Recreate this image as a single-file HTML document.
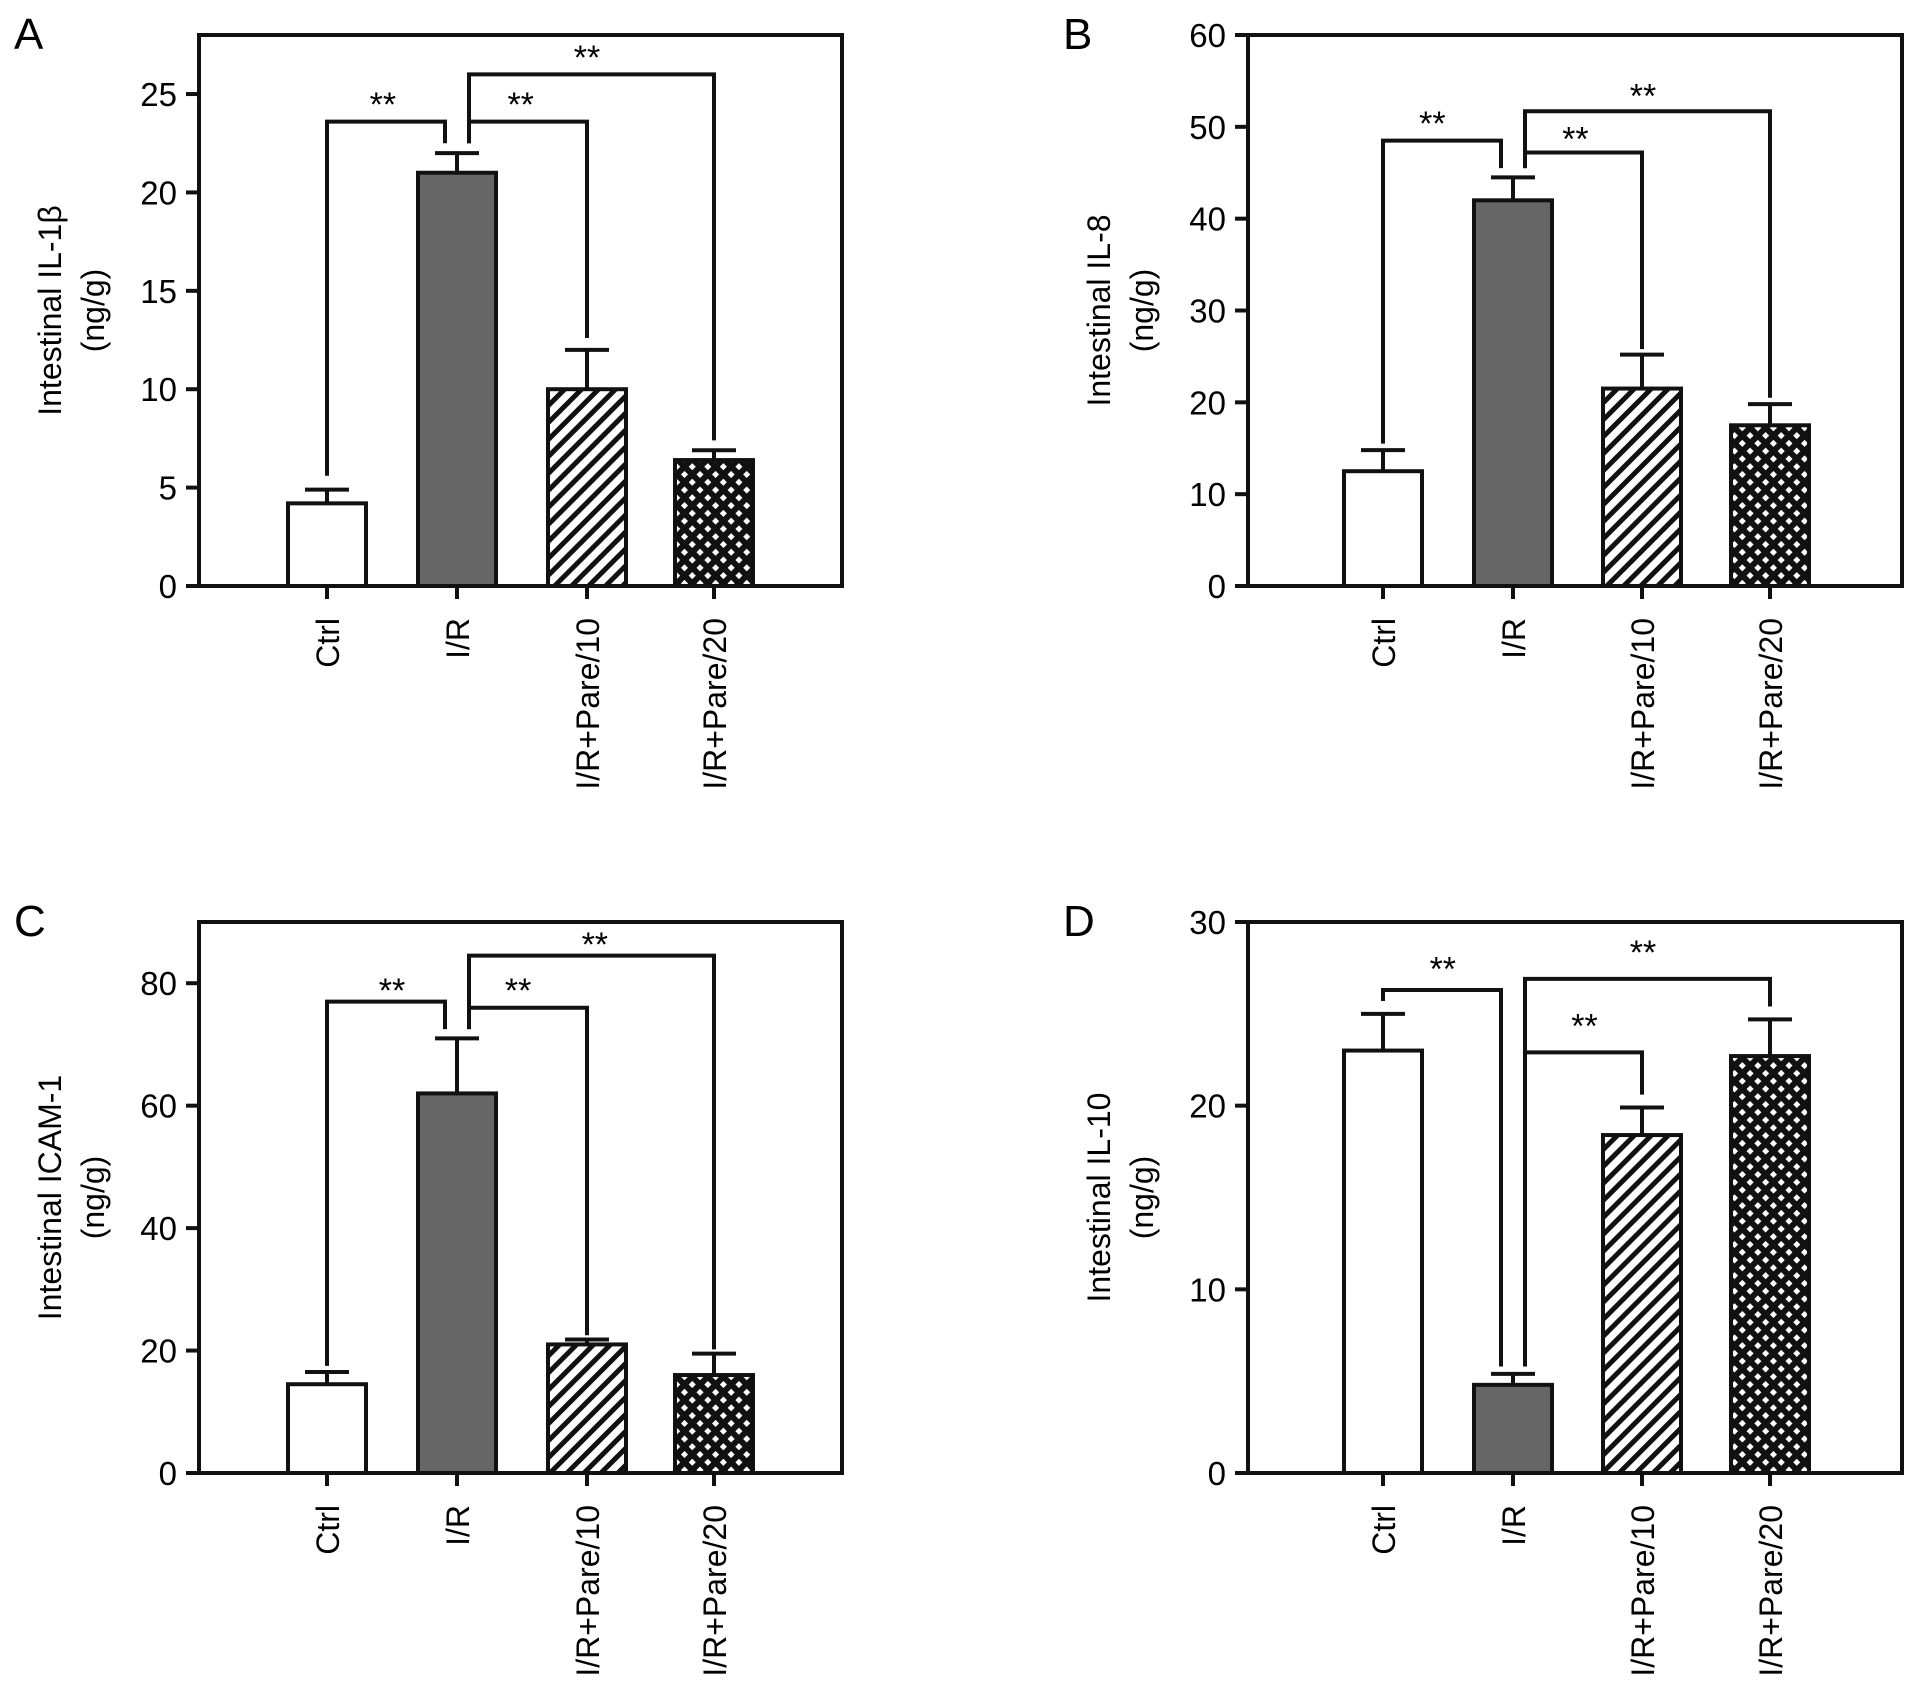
<!DOCTYPE html>
<html><head><meta charset="utf-8"><style>
html,body{margin:0;padding:0;background:#fff;}
svg{display:block;font-family:"Liberation Sans",Arial,sans-serif;}
</style></head><body>
<svg id="fig" width="1913" height="1702" viewBox="0 0 1913 1702" xmlns="http://www.w3.org/2000/svg">
<defs>
<pattern id="hatch" patternUnits="userSpaceOnUse" width="12" height="12" patternTransform="rotate(45)">
<rect width="12" height="12" fill="#fff"/><rect x="0" y="0" width="5" height="12" fill="#111"/></pattern>
<pattern id="cross" patternUnits="userSpaceOnUse" width="11" height="11" patternTransform="rotate(45)">
<rect width="11" height="11" fill="#111"/><rect x="3" y="3" width="5" height="5" fill="#fff"/></pattern>
</defs>
</svg>
<script>
const categories=["Ctrl","I/R","I/R+Pare/10","I/R+Pare/20"];
const valuesA=[4.2,21.0,10.0,6.4];
const errorsA=[4.9,22.0,12.0,6.9];
const valuesB=[12.5,42,21.5,17.5];
const errorsB=[14.8,44.5,25.2,19.8];
const valuesC=[14.5,62,21,16];
const errorsC=[16.5,71,21.8,19.5];
const valuesD=[23,4.8,18.4,22.7];
const errorsD=[25,5.4,19.9,24.7];
const ticksA=[0,5,10,15,20,25];
const ticksB=[0,10,20,30,40,50,60];
const ticksC=[0,20,40,60,80];
const ticksD=[0,10,20,30];
const maxA=28,maxB=60,maxC=90,maxD=30;
// brackets: [fromIdx,toIdx,level,leftDrop,rightDrop,starsLevel,starsCategoryPos]
const bracketsA=[[0,1,23.6,5.6,22.5,25.0,0.43],[1,2,23.6,22.5,12.6,25.0,1.49],[1,3,26,22.5,7.4,27.4,2.0]];
const bracketsB=[[0,1,48.5,15.5,45.5,51.5,0.38],[1,2,47.2,45.5,25.8,49.8,1.48],[1,3,51.7,45.5,20.5,54.5,2.0]];
const bracketsC=[[0,1,77,17.5,72.5,80.5,0.5],[1,2,76,72.5,22.5,80.5,1.47],[1,3,84.5,72.5,20.2,88,2.06]];
const bracketsD=[[0,1,26.3,25.7,5.8,28.0,0.46],[1,2,22.9,5.8,20.6,24.9,1.55],[1,3,26.9,5.8,25.4,28.9,2.0]];
const NS="http://www.w3.org/2000/svg";
const svg=document.getElementById("fig");
function mk(tag,attrs,parent,txt){const e=document.createElementNS(NS,tag);for(const k in attrs)e.setAttribute(k,attrs[k]);if(txt!==undefined)e.textContent=txt;(parent||svg).appendChild(e);return e;}
const fills=["#fff","#666","url(#hatch)","url(#cross)"];
function panel(id,letter,L,R,T,B,centers,vals,errs,ticks,ymax,brs,title){
  const g=mk("g",{});
  
  
  const y=v=>B-(v/ymax)*(B-T);
  const xc=p=>centers[0]+p*(centers[1]-centers[0]);
  const lt=mk("text",{x:L-185,y:T+14,"font-size":44},g,letter);
  
  
  const bw=78;
  vals.forEach((v,i)=>{
    const cx=centers[i];
    mk("line",{x1:cx,x2:cx,y1:y(v),y2:y(errs[i]),stroke:"#111","stroke-width":4},g);
    mk("line",{x1:cx-22,x2:cx+22,y1:y(errs[i]),y2:y(errs[i]),stroke:"#111","stroke-width":4},g);
    const r=mk("rect",{x:cx-bw/2,y:y(v),width:bw,height:B-y(v),fill:fills[i],stroke:"#111","stroke-width":4},g);
    
    
    mk("line",{x1:cx,x2:cx,y1:B,y2:B+13,stroke:"#111","stroke-width":4},g);
    const t=mk("text",{transform:`translate(${cx+12},${B+32}) rotate(-90)`,"font-size":32,"text-anchor":"end"},g,categories[i]);
    
    
  });
  mk("rect",{x:L,y:T,width:R-L,height:B-T,fill:"none",stroke:"#111","stroke-width":4},g);
  ticks.forEach(tv=>{
    mk("line",{x1:L-13,x2:L,y1:y(tv),y2:y(tv),stroke:"#111","stroke-width":4},g);
    const t=mk("text",{x:L-22,y:y(tv)+12,"font-size":33,"text-anchor":"end"},g,String(tv));
    
    
  });
  const yt=mk("text",{transform:`translate(${L-138},${(T+B)/2}) rotate(-90)`,"font-size":32,"text-anchor":"middle"},g);
  
  
  mk("tspan",{x:0,dy:0},yt,title);
  mk("tspan",{x:0,dy:43},yt,"(ng/g)");
  brs.forEach((b,k)=>{
    const x1=centers[b[0]]+(b[0]===1?12:0), x2=centers[b[1]]+(b[1]===1?-12:0);
    const p=mk("path",{d:`M${x1},${y(b[3])}V${y(b[2])}H${x2}V${y(b[4])}`,fill:"none",stroke:"#111","stroke-width":4},g);
    
    
    const s=mk("text",{x:xc(b[6]),y:y(b[5])+22,"font-size":34,"text-anchor":"middle"},g,"**");
    
    
  });
}
const cL=[327,457,587,714], cR=[1383,1513,1642,1770];
panel('a','A',199,842,35,586,cL,valuesA,errorsA,ticksA,maxA,bracketsA,"Intestinal IL-1β");
panel('b','B',1248,1902,35,586,cR,valuesB,errorsB,ticksB,maxB,bracketsB,"Intestinal IL-8");
panel('c','C',199,842,922,1473,cL,valuesC,errorsC,ticksC,maxC,bracketsC,"Intestinal ICAM-1");
panel('d','D',1248,1902,922,1473,cR,valuesD,errorsD,ticksD,maxD,bracketsD,"Intestinal IL-10");
</script>
</body></html>
